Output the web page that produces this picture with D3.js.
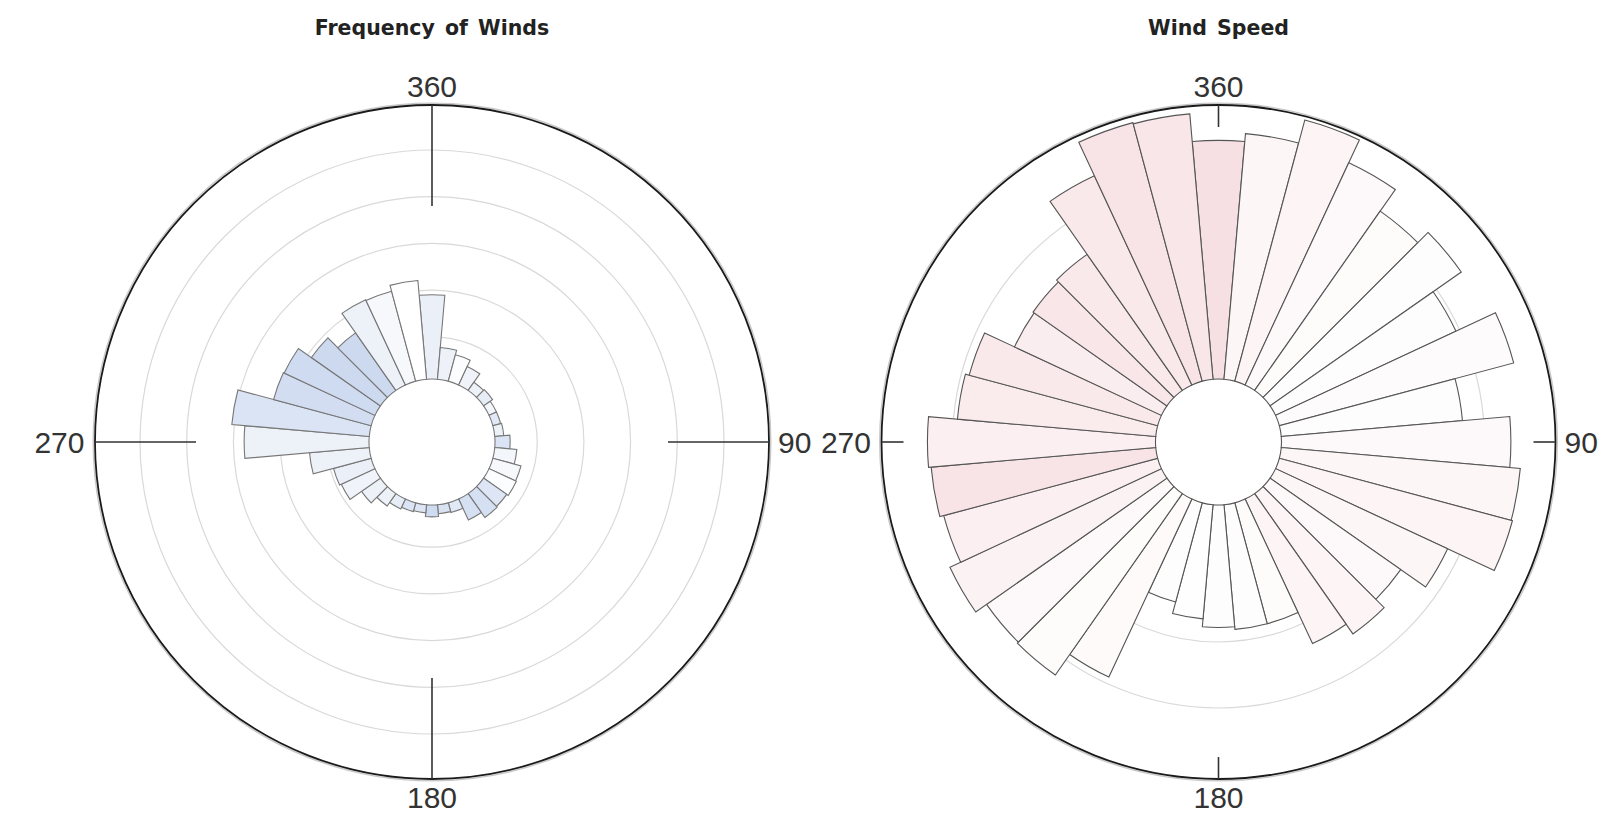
<!DOCTYPE html>
<html><head><meta charset="utf-8">
<script src="https://cdn.jsdelivr.net/npm/d3@7"></script>
<style>html,body{margin:0;padding:0;background:#fff;} svg{display:block;}</style>
</head><body>
<svg id="chart" width="1622" height="815"></svg>
<script>
// ---- data ----
const directions = [0,10,20,30,40,50,60,70,80,90,100,110,120,130,140,150,160,170,
                    180,190,200,210,220,230,240,250,260,270,280,290,300,310,320,330,340,350];
const frequency = [1.90,0.78,0.68,0.53,0.31,0.33,0.27,0.27,0.29,0.42,0.57,0.72,0.74,0.70,0.72,0.59,0.31,0.29,
                   0.35,0.27,0.29,0.33,0.42,0.59,0.89,0.93,1.38,2.77,3.05,2.26,2.24,1.90,1.60,2.11,2.09,2.22];
const frequencyShade = [0.35,0.30,0.05,0.25,0.30,0.40,0.20,0.50,0.30,0.60,0.20,0.15,0.05,0.55,0.70,0.70,0.50,0.65,
                        0.80,0.55,0.60,0.40,0.30,0.30,0.25,0.35,0.30,0.30,0.60,0.75,0.80,0.85,0.85,0.30,0.15,0.00];
const windSpeed = [17.7,18.3,20.1,18.2,16.2,17.3,14.7,18.0,13.4,17.0,17.8,17.9,14.0,11.7,12.6,11.7,9.1,9.1,
                   8.9,8.3,7.4,14.5,16.4,16.3,17.3,16.4,16.7,16.9,14.7,14.4,11.9,12.0,12.2,17.1,19.9,19.8];
const speedShade = [0.70,0.20,0.25,0.15,0.10,0.05,0.05,0.08,0.05,0.15,0.20,0.25,0.20,0.15,0.25,0.25,0.10,0.05,
                    0.05,0.02,0.05,0.12,0.10,0.15,0.30,0.35,0.60,0.35,0.45,0.50,0.40,0.55,0.50,0.50,0.60,0.55];
const angleTickValues = [0, 90, 180, 270];
const angleTickLabels = ["360", "90", "180", "270"];
const frequencyGrid = [1, 2, 3, 4, 5];
const speedGrid = [5, 10, 15];
const titles = ["Frequency of Winds", "Wind Speed"];

// ---- drawing ----
const svg = d3.select("#chart");
const panels = [
  {title: titles[0], cx: 432, cy: 442, values: frequency, shade: frequencyShade,
   domain: [0.096, 5.964], grid: frequencyGrid, color: "#c3d2ec", stroke: "#777", tickLen: 101},
  {title: titles[1], cx: 1218.5, cy: 442, values: windSpeed, shade: speedShade,
   domain: [-0.38, 20.38], grid: speedGrid, color: "#f3d2d7", stroke: "#555", tickLen: 22}
];
const R = 337, hole = 63;
const rad = d => d * Math.PI / 180;

panels.forEach(p => {
  const r = d3.scaleLinear().domain(p.domain).range([hole, R]);
  const ang = d3.scaleLinear().domain([0, 360]).range([0, 2 * Math.PI]);
  const g = svg.append("g").attr("transform", `translate(${p.cx},${p.cy})`);

  // title
  svg.append("text").attr("x", p.cx).attr("y", 35)
    .attr("text-anchor", "middle")
    .style("font-family", "'DejaVu Sans', sans-serif").style("font-weight", "bold")
    .style("font-size", "20.5px").style("word-spacing", "3px").style("fill", "#222")
    .text(p.title);

  // radial grid
  g.selectAll("circle.grid").data(p.grid).join("circle")
    .attr("class", "grid").attr("r", d => r(d))
    .attr("fill", "none").attr("stroke", "#d9d9d9").attr("stroke-width", 1.2);

  // bars
  const arc = d3.arc();
  g.selectAll("path.bar").data(directions).join("path")
    .attr("class", "bar")
    .attr("d", (d, i) => arc({innerRadius: hole, outerRadius: r(p.values[i]),
                              startAngle: ang(d - 5), endAngle: ang(d + 5)}))
    .attr("fill", (d, i) => d3.interpolateRgb("#ffffff", p.color)(p.shade[i]))
    .attr("stroke", p.stroke).attr("stroke-width", 1.1).attr("stroke-linejoin", "miter");

  // outer frame
  g.append("circle").attr("r", R + 1.8).attr("fill", "none")
    .attr("stroke", "#c8c8c8").attr("stroke-width", 1.4);
  g.append("circle").attr("r", R).attr("fill", "none")
    .attr("stroke", "#1a1a1a").attr("stroke-width", 1.8);

  // angular ticks
  g.selectAll("line.tick").data(angleTickValues).join("line")
    .attr("class", "tick")
    .attr("x1", d => Math.sin(rad(d)) * R).attr("y1", d => -Math.cos(rad(d)) * R)
    .attr("x2", d => Math.sin(rad(d)) * (R - p.tickLen)).attr("y2", d => -Math.cos(rad(d)) * (R - p.tickLen))
    .attr("stroke", "#333").attr("stroke-width", 1.6);

  // angular labels
  const lab = g.selectAll("text.alab").data(angleTickValues).join("text")
    .attr("class", "alab")
    .style("font-family", "'Liberation Sans', Arial, sans-serif")
    .style("font-size", "30px").style("fill", "#333")
    .text((d, i) => angleTickLabels[i]);
  lab.each(function(d) {
    const t = d3.select(this);
    if (d === 0) t.attr("x", 0).attr("y", -(R + 8.5)).attr("text-anchor", "middle");
    else if (d === 180) t.attr("x", 0).attr("y", R + 29).attr("text-anchor", "middle");
    else if (d === 90) t.attr("x", R + 9).attr("y", 10.5).attr("text-anchor", "start");
    else t.attr("x", -(R + 10.5)).attr("y", 10.5).attr("text-anchor", "end");
  });
});
</script>
</body></html>
